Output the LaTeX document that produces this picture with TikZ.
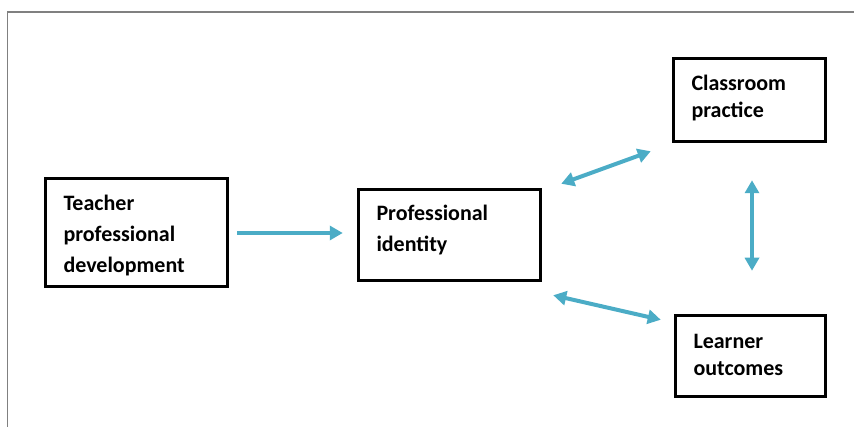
\documentclass[tikz,border=0pt]{standalone}
\usepackage{fontspec}
\setmainfont{Carlito}
\usetikzlibrary{arrows.meta,calc}
\definecolor{arrblue}{RGB}{75,172,198}
\definecolor{framegray}{RGB}{128,128,128}
\tikzset{
  box/.style={draw=black, line width=3.5pt, rectangle, anchor=center, inner sep=0pt},
  txt/.style={align=left, anchor=center, inner sep=0pt, font=\bfseries\fontsize{22}{31}\selectfont},
  txttight/.style={txt, font=\bfseries\fontsize{22}{27}\selectfont},
  arr/.style={draw=arrblue, line width=4pt, -{Triangle[length=13pt,width=14pt]}},
  biarr/.style={draw=arrblue, line width=4pt, {Triangle[length=13pt,width=14pt]}-{Triangle[length=13pt,width=14pt]}},
}
\begin{document}
\begin{tikzpicture}[x=1pt,y=-1pt]
\useasboundingbox (0,0) rectangle (854,427);
\draw[framegray, line width=1.5pt] (7.5,427) -- (7.5,12) -- (854,12);

\node[box, minimum width=182pt, minimum height=108pt] (T) at (136.5,232.5) {};
\node[box, minimum width=182pt, minimum height=91pt] (P) at (449.5,235) {};
\node[box, minimum width=152pt, minimum height=83pt] (C) at (749.5,100) {};
\node[box, minimum width=150pt, minimum height=81pt] (L) at (750.5,356) {};

\node[txt, text width=146pt] (Tt) at ($(T.center)+(0,3)$) {Teacher\\professional\\development};
\node[txt, text width=146pt] (Pt) at ($(P.center)+(0,-5)$) {Professional\\identity};
\node[txttight, text width=116pt] (Ct) at ($(C.center)+(0,-2)$) {Classroom\\practice};
\node[txttight, text width=114pt] (Lt) at ($(L.center)+(0,-1)$) {Learner\\outcomes};

\draw[arr] ($(T.east)+(8,0.5)$) -- ($(P.west)+(-14,-2)$);
\draw[biarr] ($(P.north east)+(19,-4)$) -- ($(C.south west)+(-21,8)$);
\draw[biarr] ($(P.south east)+(11,13)$) -- ($(L.north west)+(-13,6)$);
\draw[biarr] ($(C.south)+(2.5,37)$) -- ($(L.north)+(1.5,-43)$);
\end{tikzpicture}
\end{document}
